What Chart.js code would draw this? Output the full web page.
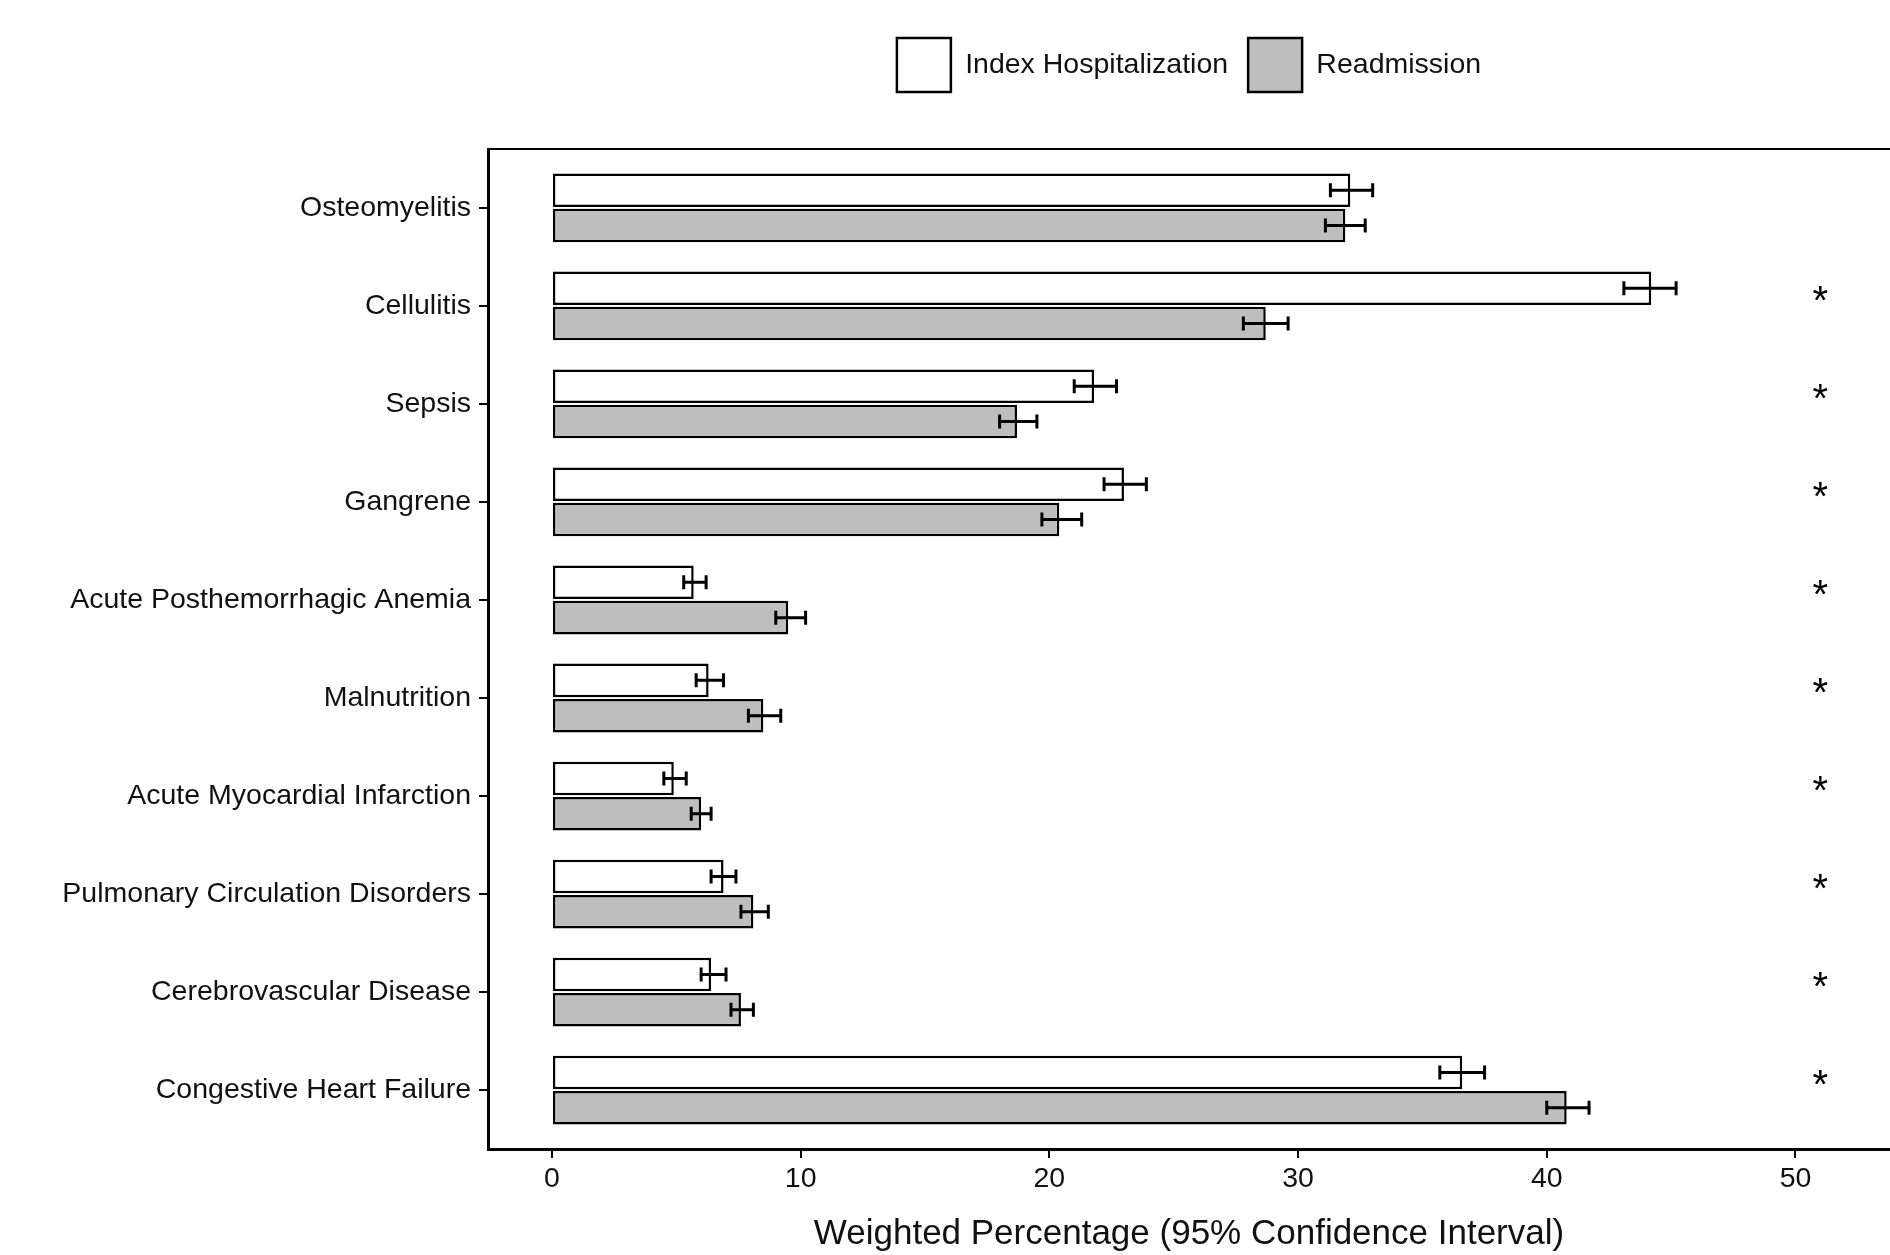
<!DOCTYPE html>
<html>
<head>
<meta charset="utf-8">
<script src="https://cdn.jsdelivr.net/npm/chart.js@4.4.1/dist/chart.umd.min.js"></script>
<style>
  html, body { margin: 0; padding: 0; background: #fff; }
  #wrap { width: 1890px; height: 1255px; }
</style>
</head>
<body>
<div id="wrap"><canvas id="chart"></canvas></div>
<script>
const categories = ["Osteomyelitis", "Cellulitis", "Sepsis", "Gangrene", "Acute Posthemorrhagic Anemia",
  "Malnutrition", "Acute Myocardial Infarction", "Pulmonary Circulation Disorders",
  "Cerebrovascular Disease", "Congestive Heart Failure"];

const indexValues = [32.1, 44.2, 21.8, 23.0, 5.7, 6.3, 4.9, 6.9, 6.4, 36.6];
const indexLower  = [31.3, 43.1, 21.0, 22.2, 5.3, 5.8, 4.5, 6.4, 6.0, 35.7];
const indexUpper  = [33.0, 45.2, 22.7, 23.9, 6.2, 6.9, 5.4, 7.4, 7.0, 37.5];

const readmValues = [31.9, 28.7, 18.7, 20.4, 9.5, 8.5, 6.0, 8.1, 7.6, 40.8];
const readmLower  = [31.1, 27.8, 18.0, 19.7, 9.0, 7.9, 5.6, 7.6, 7.2, 40.0];
const readmUpper  = [32.7, 29.6, 19.5, 21.3, 10.2, 9.2, 6.4, 8.7, 8.1, 41.7];

const significant = [false, true, true, true, true, true, true, true, true, true];
const starX = 51;
const xTicks = [0, 10, 20, 30, 40, 50];

const FONT = "'Liberation Sans', Arial, sans-serif";

// error bars drawn on top of the bars, using the x scale
const errorBars = {
  id: "errorBars",
  afterDatasetsDraw(chart) {
    const ctx = chart.ctx;
    const xs = chart.scales.x;
    ctx.save();
    ctx.strokeStyle = "#000";
    ctx.lineWidth = 3;
    chart.data.datasets.forEach(function (ds, d) {
      const meta = chart.getDatasetMeta(d);
      meta.data.forEach(function (bar, i) {
        const x1 = xs.getPixelForValue(ds.errLow[i]);
        const x2 = xs.getPixelForValue(ds.errHigh[i]);
        const y = bar.y;
        ctx.beginPath();
        ctx.moveTo(x1, y); ctx.lineTo(x2, y);
        ctx.moveTo(x1, y - 7); ctx.lineTo(x1, y + 7);
        ctx.moveTo(x2, y - 7); ctx.lineTo(x2, y + 7);
        ctx.stroke();
      });
    });
    ctx.restore();
  }
};

// asterisks + top border of the panel
const extras = {
  id: "extras",
  afterDraw(chart) {
    const ctx = chart.ctx;
    const xs = chart.scales.x, ys = chart.scales.y;
    const a = chart.chartArea;
    ctx.save();
    ctx.strokeStyle = "#000";
    ctx.lineWidth = 2;
    ctx.beginPath();
    ctx.moveTo(a.left, a.top); ctx.lineTo(a.right, a.top);
    ctx.stroke();
    ctx.fillStyle = "#000";
    ctx.font = "40px " + FONT;
    ctx.textAlign = "center";
    ctx.textBaseline = "middle";
    significant.forEach(function (s, i) {
      if (s) ctx.fillText("*", xs.getPixelForValue(starX), ys.getPixelForValue(i) - 3);
    });
    ctx.restore();
  }
};

function points(vals) {
  return vals.map(function (v, i) { return { x: v, y: i }; });
}

const ctx = document.getElementById("chart").getContext("2d");
const myChart = new Chart(ctx, {
  type: "bar",
  data: {
    datasets: [
      {
        label: "Index Hospitalization",
        data: points(indexValues),
        errLow: indexLower,
        errHigh: indexUpper,
        backgroundColor: "#ffffff",
        borderColor: "#000000",
        borderWidth: 2.5,
        borderSkipped: false,
      },
      {
        label: "Readmission",
        data: points(readmValues),
        errLow: readmLower,
        errHigh: readmUpper,
        backgroundColor: "#bebebe",
        borderColor: "#000000",
        borderWidth: 2.5,
        borderSkipped: false,
      },
    ],
  },
  options: {
    indexAxis: "y",
    responsive: true,
    maintainAspectRatio: false,
    animation: false,
    categoryPercentage: 0.72,
    barPercentage: 0.95,
    layout: { padding: { top: 18, left: 0, right: 0, bottom: 0 } },
    plugins: {
      tooltip: { enabled: false },
      legend: {
        position: "top",
        fullSize: false,
        labels: {
          boxWidth: 54,
          boxHeight: 54,
          padding: 20,
          color: "#111",
          font: { family: FONT, size: 28.5 },
        },
      },
    },
    scales: {
      x: {
        type: "linear",
        min: -2.57,
        max: 53.8,
        afterBuildTicks: function (s) { s.ticks = xTicks.map(function (v) { return { value: v }; }); },
        afterFit: function (s) { s.height = 106; },
        grid: { drawOnChartArea: false, drawTicks: true, tickLength: 9, color: "#000", lineWidth: 2 },
        border: { display: true, color: "#000", width: 3 },
        ticks: { color: "#111", padding: 4, font: { family: FONT, size: 28.5 } },
        title: {
          display: true,
          text: "Weighted Percentage (95% Confidence Interval)",
          color: "#111",
          font: { family: FONT, size: 35 },
          padding: { top: 0, bottom: 0 },
        },
      },
      // empty spacer between legend and panel
      gap: {
        type: "linear",
        axis: "x",
        position: "top",
        afterFit: function (s) { s.height = 47; },
        grid: { display: false },
        border: { display: false },
        ticks: { display: false },
      },
      y: {
        type: "linear",
        reverse: true,
        offset: false,
        min: -0.6,
        max: 9.6,
        afterBuildTicks: function (s) { s.ticks = categories.map(function (c, i) { return { value: i }; }); },
        afterFit: function (s) { s.width = 488; },
        grid: { offset: false, drawOnChartArea: false, drawTicks: true, tickLength: 9, color: "#000", lineWidth: 2 },
        border: { display: true, color: "#000", width: 3 },
        ticks: {
          autoSkip: false,
          color: "#111",
          padding: 8,
          font: { family: FONT, size: 28.5 },
          callback: function (v) { return categories[v]; },
        },
      },
    },
  },
  plugins: [errorBars, extras],
});
</script>
</body>
</html>
